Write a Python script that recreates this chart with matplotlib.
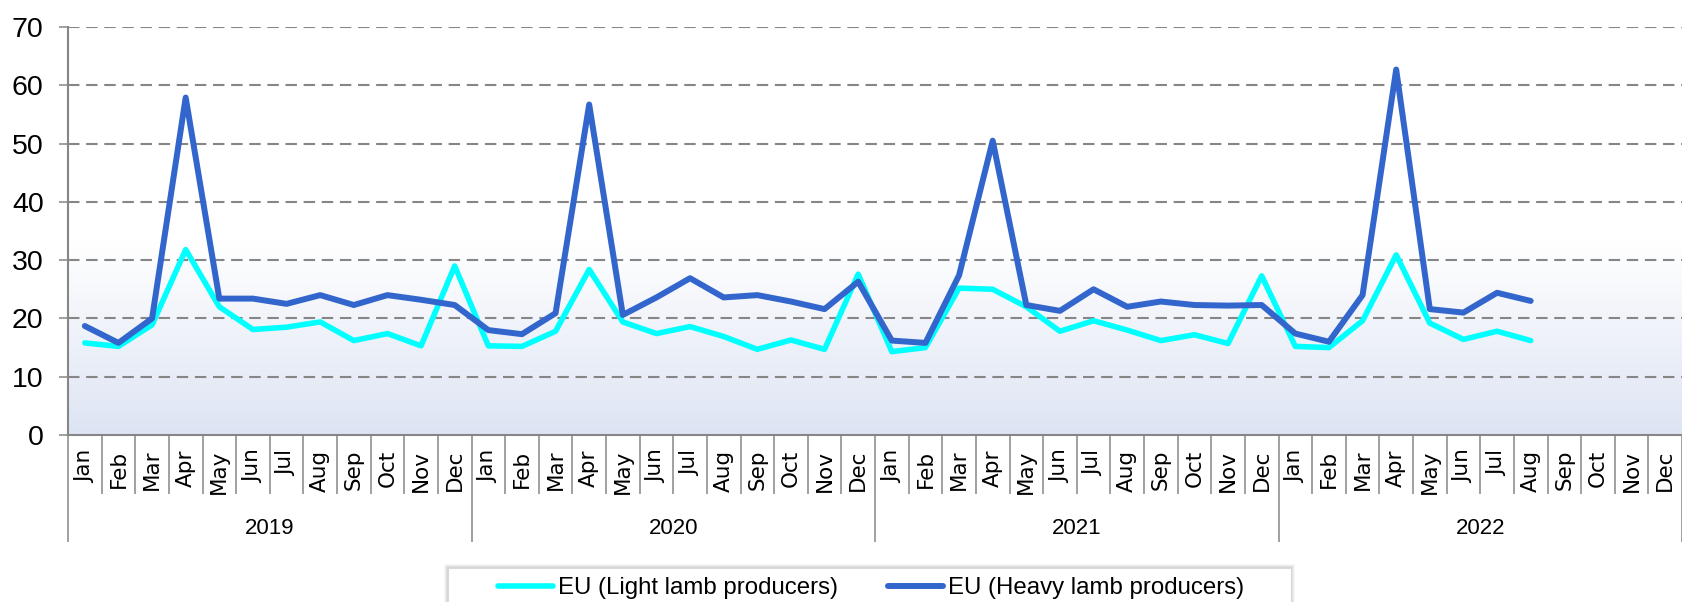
import numpy as np
import matplotlib
matplotlib.use("Agg")
import matplotlib.pyplot as plt
from matplotlib.patches import Rectangle

months = ["Jan", "Feb", "Mar", "Apr", "May", "Jun",
          "Jul", "Aug", "Sep", "Oct", "Nov", "Dec"]
years = ["2019", "2020", "2021", "2022"]

light = [15.8, 15.2, 18.9, 31.8, 22.0, 18.1, 18.5, 19.4, 16.2, 17.4, 15.3, 29.0,
         15.3, 15.2, 17.8, 28.4, 19.4, 17.4, 18.6, 16.9, 14.7, 16.3, 14.7, 27.6,
         14.3, 15.0, 25.2, 25.0, 22.0, 17.8, 19.6, 18.0, 16.2, 17.2, 15.7, 27.3,
         15.2, 15.0, 19.6, 30.9, 19.2, 16.4, 17.8, 16.2]
heavy = [18.7, 15.8, 20.0, 57.9, 23.4, 23.4, 22.5, 24.0, 22.3, 24.0, 23.2, 22.3,
         18.0, 17.3, 20.9, 56.7, 20.6, 23.6, 26.9, 23.6, 24.0, 22.9, 21.6, 26.3,
         16.2, 15.8, 27.4, 50.5, 22.3, 21.3, 25.0, 22.0, 22.9, 22.3, 22.2, 22.3,
         17.4, 16.0, 24.0, 62.7, 21.6, 21.0, 24.4, 23.0]
series_names = ["EU (Light lamb producers)", "EU (Heavy lamb producers)"]

W, H = 1682, 602
fig = plt.figure(figsize=(W / 100, H / 100), dpi=100)
ax = fig.add_axes([68 / W, (H - 435) / H, (W - 68) / W, (435 - 27) / H])

n_cat = len(months) * len(years)
ax.set_xlim(0, (W - 68) / 33.95)
ax.set_ylim(0, 70)

# soft gradient in lower part of the plot
grad = np.linspace(0, 1, 256).reshape(-1, 1)
c_bot = np.array([0.867, 0.894, 0.953])
c_top = np.array([1.0, 1.0, 1.0])
img = c_bot + (c_top - c_bot) * grad[:, :, None]
ax.imshow(img, extent=[0, n_cat, 0, 33], origin="lower", aspect="auto", zorder=0)

grid_c = "#868686"
for v in range(10, 80, 10):
    ax.axhline(v, color=grid_c, lw=1.5, ls=(0, (5.5, 3.2)), zorder=1)

x = np.arange(len(light)) + 0.5
ax.plot(x, light, color="#00FFFF", lw=4.0, solid_joinstyle="round",
        solid_capstyle="round", zorder=3, label=series_names[0])
ax.plot(x, heavy, color="#3366CC", lw=4.3, solid_joinstyle="round",
        solid_capstyle="round", zorder=4, label=series_names[1])

for s in ["top", "right"]:
    ax.spines[s].set_visible(False)
for s in ["left", "bottom"]:
    ax.spines[s].set_color(grid_c)
    ax.spines[s].set_linewidth(1.5)

ax.set_yticks(range(0, 80, 10))
ax.tick_params(axis="y", length=6.5, width=1.1, color=grid_c, pad=11,
               labelsize=20.5, labelfontfamily="Liberation Sans")

# category axis: month separators as minor ticks, year separators as major ticks
ax.set_xticks(np.arange(0, n_cat + 1, 12))
ax.set_xticks(np.arange(0, n_cat + 1), minor=True)
ax.tick_params(axis="x", which="major", length=77, width=1.1, color=grid_c,
               labelbottom=False)
ax.tick_params(axis="x", which="minor", length=42.5, width=1.1, color=grid_c,
               labelbottom=False)

for i in range(n_cat):
    ax.annotate(months[i % 12], xy=(i + 0.5, 0), xycoords=("data", "axes fraction"),
                xytext=(0, -10.5), textcoords="offset points", rotation=90,
                ha="center", va="top", fontsize=15.5, family="DejaVu Sans",
                color="black")
for j, yr in enumerate(years):
    ax.annotate(yr, xy=(j * 12 + 6, 0), xycoords=("data", "axes fraction"),
                xytext=(0, -67), textcoords="offset points",
                ha="center", va="center", fontsize=16, family="Liberation Sans")

# legend box with a soft shadow, cut by the bottom edge
bx0, bx1, by_top = 448 / W, 1291 / W, 1 - 568 / H
for k, a in enumerate([0.05, 0.05, 0.04, 0.03]):
    fig.patches.append(Rectangle((bx0 - (k + 1) / W, -0.1), bx1 - bx0 + 2 * (k + 1) / W,
                                 by_top + 0.1 + (k + 1) / H, transform=fig.transFigure,
                                 facecolor="black", alpha=a, edgecolor="none", zorder=0))
fig.patches.append(Rectangle((bx0, -0.1), bx1 - bx0, by_top + 0.1,
                             transform=fig.transFigure, facecolor="white",
                             edgecolor="#d9d9d9", lw=0.8, zorder=1))

fig.legend(loc="center", bbox_to_anchor=((499 + 1243) / 2 / W, 1 - 588 / H),
           ncol=2, frameon=False, prop={"family": "Liberation Sans", "size": 17.3},
           handlelength=2.3, handletextpad=0.2, columnspacing=2.1)

fig.savefig("out.png", dpi=100)
